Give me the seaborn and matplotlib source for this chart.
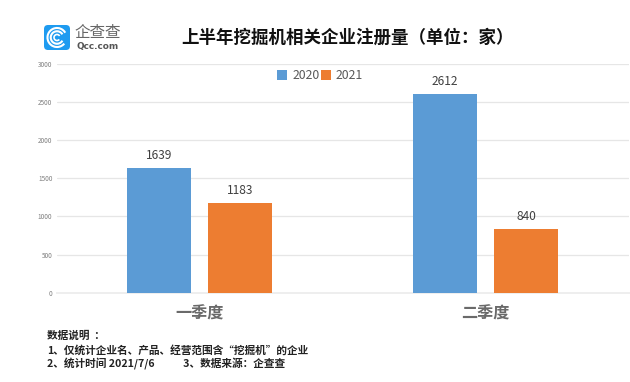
import matplotlib
matplotlib.use("Agg")
import matplotlib.pyplot as plt
from matplotlib.patches import FancyBboxPatch, Arc
import pandas as pd
import seaborn as sns

quarters = ["一季度", "二季度"]
values_2020 = [1639, 2612]
values_2021 = [1183, 840]
years = ["2020", "2021"]
colors = ["#5B9BD5", "#ED7D31"]
y_ticks = [0, 500, 1000, 1500, 2000, 2500, 3000]
title = "上半年挖掘机相关企业注册量（单位：家）"
notes = ["数据说明  ：",
         "1、仅统计企业名、产品、经营范围含“挖掘机”的企业",
         "2、统计时间 2021/7/6            3、数据来源：企查查"]

sns.set_theme(style="white")
plt.rcParams['font.family'] = ['Noto Sans CJK SC', 'DejaVu Sans']

df = pd.DataFrame({
    "quarter": quarters * 2,
    "value": values_2020 + values_2021,
    "year": [years[0]] * 2 + [years[1]] * 2,
})

W, H = 630, 382
fig = plt.figure(figsize=(W / 100, H / 100), dpi=100, facecolor="white")
ax = fig.add_axes([56.5 / W, 1 - 292.7 / H, 572 / W, 228.7 / H])
sns.barplot(data=df, x="quarter", y="value", hue="year", palette=colors,
            width=0.566, gap=0.21, saturation=1, ax=ax, zorder=3,
            edgecolor="none", legend=True)
ax.set_xlim(-0.5, 1.5)
ax.set_ylim(0, 3000)
ax.set_xlabel("")
ax.set_ylabel("")
ax.set_yticks(y_ticks)
ax.set_yticklabels([str(v) for v in y_ticks])
ax.tick_params(axis="y", labelsize=4.6, labelcolor="#7f7f7f", length=0, pad=3)
ax.tick_params(axis="x", labelsize=11.6, labelcolor="#6a6a6a", length=0, pad=9)
for t in ax.get_xticklabels():
    t.set_fontweight("bold")
ax.grid(axis="y", color="#e6e6e6", lw=0.9, zorder=0)
ax.set_axisbelow(True)
for s in ["top", "right", "left"]:
    ax.spines[s].set_visible(False)
ax.spines["bottom"].set_color("#eeeeee")
ax.spines["bottom"].set_linewidth(1.4)

for c in ax.containers:
    ax.bar_label(c, padding=3.8, fontsize=8.6, color="#404040", fmt="%d")

ax.legend(loc="center", bbox_to_anchor=((320 - 56.5) / 572, (292.7 - 75.5) / 228.7),
          ncol=2, frameon=False, fontsize=8.8, labelcolor="#595959",
          handlelength=0.85, handleheight=0.85, handletextpad=0.4,
          columnspacing=0.1, borderpad=0, borderaxespad=0)

fig.text(347 / W, 1 - 38 / H, title, ha="center", va="center",
         fontsize=12.6, fontweight="bold", color="#111111")

for i, line in enumerate(notes):
    fig.text(47 / W, 1 - (336 + 14 * i) / H, line, ha="left", va="center",
             fontsize=7.7, fontweight="bold", color="#222222")

# logo overlay in pixel coordinates
lg = fig.add_axes([0, 0, 1, 1], facecolor="none")
lg.set_xlim(0, W)
lg.set_ylim(H, 0)
lg.axis("off")
lg.add_patch(FancyBboxPatch((47, 28), 20, 19, boxstyle="round,pad=3,rounding_size=4",
                            fc="#1E9BF0", ec="none"))
for d, a, lw in [(19, 40, 1.5), (12.5, 30, 1.5), (6, 40, 1.2)]:
    lg.add_patch(Arc((57, 37.5), d, d, theta1=a, theta2=330, color="white", lw=lw))
lg.text(98, 33, "企查查", ha="center", va="center", fontsize=11.2,
        color="#666666", fontweight="light")
lg.text(98, 46.5, "Qcc.com", ha="center", va="center", fontsize=6.4,
        color="#555555", fontweight="bold", family=["DejaVu Sans"])

fig.savefig("out.png", dpi=100)
